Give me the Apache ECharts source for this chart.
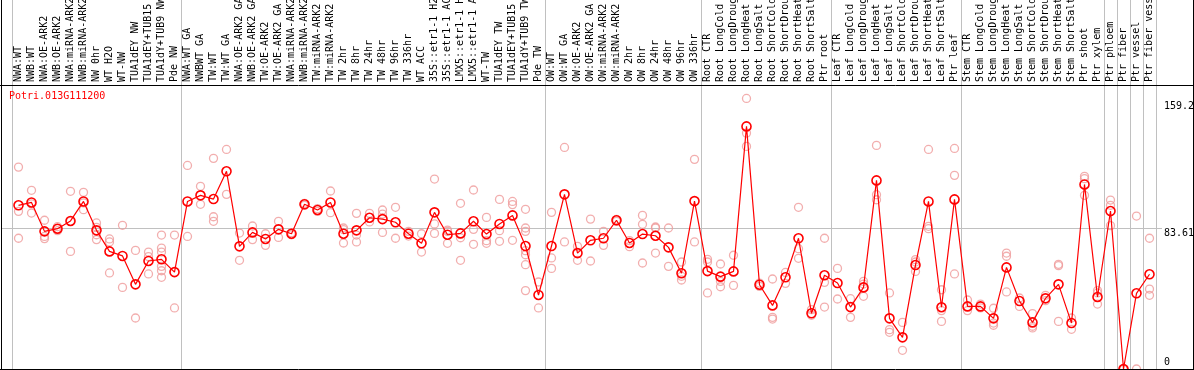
<!DOCTYPE html>
<html><head><meta charset="utf-8">
<script src="https://cdn.jsdelivr.net/npm/echarts@6/dist/echarts.min.js"></script>
<style>html,body{margin:0;padding:0;background:#fff;overflow:hidden}#c{width:1194px;height:370px}</style>
</head><body><div id="c"></div>
<script>
const geneName = 'Potri.013G111200';
const categories = [
 'NWA:WT','NWB:WT','NWA:OE-ARK2','NWB:OE-ARK2','NWA:miRNA-ARK2','NWB:miRNA-ARK2','NW 0hr','WT H2O','WT-NW','TUA1dEY NW','TUA1dEY+TUB15 NW','TUA1dY+TUB9 NW','Pde NW',
 'NWA:WT GA','NWBWT GA','TW:WT','TW:WT GA','NWA:OE-ARK2 GA','NWB:OE-ARK2 GA','TW:OE-ARK2','TW:OE-ARK2 GA','NWA:miRNA-ARK2 GA','NWB:miRNA-ARK2 GA','TW:miRNA-ARK2','TW:miRNA-ARK2 GA','TW 2hr','TW 8hr','TW 24hr','TW 48hr','TW 96hr','TW 336hr','WT ACC','35S::etr1-1 H2O','35S::etr1-1 ACC','LMX5::etr1-1 H2O','LMX5::etr1-1 ACC','WT-TW','TUA1dEY TW','TUA1dEY+TUB15 TW','TUA1dY+TUB9 TW','Pde TW',
 'OW:WT','OW:WT GA','OW:OE-ARK2','OW:OE-ARK2 GA','OW:miRNA-ARK2','OW:miRNA-ARK2 GA','OW 2hr','OW 8hr','OW 24hr','OW 48hr','OW 96hr','OW 336hr',
 'Root CTR','Root LongCold','Root LongDrought','Root LongHeat','Root LongSalt','Root ShortCold','Root ShortDrought','Root ShortHeat','Root ShortSalt','Ptr root',
 'Leaf CTR','Leaf LongCold','Leaf LongDrought','Leaf LongHeat','Leaf LongSalt','Leaf ShortCold','Leaf ShortDrought','Leaf ShortHeat','Leaf ShortSalt','Ptr leaf',
 'Stem CTR','Stem LongCold','Stem LongDrought','Stem LongHeat','Stem LongSalt','Stem ShortCold','Stem ShortDrought','Stem ShortHeat','Stem ShortSalt','Ptr shoot','Ptr xylem',
 'Ptr phloem','Ptr fiber','Ptr vessel','Ptr fiber vessel'
];
const means = [
 97.3,99.0,81.8,83.4,88.0,99.6,82.4,69.9,67.2,50.3,64.2,65.2,57.6,
 99.6,103.2,101.0,117.5,72.9,81.2,77.3,83.0,80.4,97.9,94.5,99.0,80.4,82.4,89.9,89.1,87.2,80.4,74.7,93.1,79.8,80.6,87.8,80.2,86.2,91.3,73.1,44.0,
 73.1,103.8,68.9,76.5,77.7,88.4,74.9,80.2,79.2,72.3,56.9,99.8,
 58.2,54.9,58.0,144.2,50.1,37.8,54.5,77.7,33.1,55.7,
 51.1,36.8,48.5,112.1,30.1,18.8,61.8,99.6,36.7,100.8,
 37.2,37.2,30.1,60.4,40.4,27.7,42.0,50.3,27.3,109.7,42.8,
 93.9,0,45.0,56.3
];
const replicates = [
 [120.0,93.7,77.7],[106.2,98.1,92.7],[88.4,78.8,77.5],[84.6,83.4,82.2],[105.6,87.8,69.9],[105.0,98.7,94.7],[86.8,84.2,79.8,76.9],[77.3,75.5,57.1],[85.4,48.5],[70.5,30.3],[69.5,66.8,56.5],[79.6,71.9,69.5,61.0,58.4,54.5],[79.6,36.3],
 [121.0,78.8],[108.6,97.9],[125.2,90.5,87.8],[130.5,103.8],[80.8,64.6],[85.0,76.9],[80.4,73.5],[87.8,78.2],[81.0,79.8],[98.5,97.3],[95.3,93.7],[105.8,92.9],[83.8,82.8,74.9],[92.5,79.6,75.5],[92.5,87.4],[94.5,92.1,81.2],[96.1,77.7],[81.8,79.0],[80.4,69.5],[112.9,86.2,80.6],[82.6,81.8,74.7],[98.5,78.0,64.6],[106.4,83.0,74.1],[90.1,76.3,74.7],[100.8,82.2,75.9],[99.6,97.7,76.5],[94.9,83.8,81.8,70.3,67.9,62.0,46.6],[51.7,36.3],
 [93.1,66.0,59.8],[131.7,75.5],[72.9,64.6],[89.1,64.2],[81.8,73.5],[88.9,87.8],[76.3,72.7],[91.3,86.0,63.0],[84.4,83.8,68.9],[83.8,61.0],[63.6,55.1,52.9],[124.6,75.5],
 [65.2,63.6,45.2],[62.4,52.1,48.9],[67.6,49.7],[160.8,140.2,132.3],[51.1,49.1],[53.5,30.7,29.7],[57.4,50.9],[96.1,71.5,65.8],[35.3,31.9],[77.7,51.5,36.8],
 [59.8,41.6],[41.8,30.7],[52.1,50.5,43.2],[132.9,103.6,100.6],[45.2,23.4,21.8],[27.7,11.1],[65.0,63.6,58.0],[130.5,84.8,83.4],[47.1,34.7,28.3],[131.1,115.1,56.5],
 [41.0,34.7],[38.6,36.3],[36.1,27.3,26.0],[68.9,67.0,45.8],[42.2,37.2],[32.9,25.4,24.4],[43.8,40.6],[62.2,61.4,28.3],[30.3,23.6],[114.5,113.1,103.2],[46.6,45.2,38.6],
 [100.4,97.3,85.2],[0,0,0],[90.9,0],[77.7,47.5,43.8]
];
const groupStarts = [0,13,41,53,63,73,84,85,86,87];
const yTicks = [0, 83.61, 159.2];
const refLine = 83.61;
const yMax = 168.8;

const FONT = 'DejaVu Sans Mono';
const SEP = '#c0c0c0';
const sepInterval = function (i) { return groupStarts.indexOf(i) >= 0; };

const repData = [];
replicates.forEach(function (arr, i) { arr.forEach(function (v) { repData.push([i, v]); }); });

const chart = echarts.init(document.getElementById('c'), null, {renderer: 'canvas'});
const option = {
  animation: false,
  backgroundColor: '#fff',
  title: {text: geneName, left: 9, top: 91, padding: 0, textStyle: {color: '#ff0000', fontFamily: FONT, fontSize: 10, fontWeight: 'normal'}},
  grid: [
    {left: 12, width: 1144, top: 0, height: 85, outerBoundsMode: 'none', containLabel: false},
    {left: 12, width: 1144, top: 85, height: 284, outerBoundsMode: 'none', containLabel: false}
  ],
  xAxis: [
    {gridIndex: 0, type: 'category', data: categories, boundaryGap: true,
     axisLine: {show: false}, axisTick: {show: false}, axisLabel: {show: false},
     splitLine: {show: true, interval: sepInterval, lineStyle: {color: SEP, width: 1}}},
    {gridIndex: 1, type: 'category', data: categories, position: 'top', boundaryGap: true,
     axisLine: {show: false}, axisTick: {show: false},
     axisLabel: {show: true, interval: 0, rotate: 90, margin: 3, color: '#000', fontFamily: FONT, fontSize: 10, hideOverlap: false},
     splitLine: {show: true, interval: sepInterval, lineStyle: {color: SEP, width: 1}}}
  ],
  yAxis: [
    {gridIndex: 0, type: 'value', show: false},
    {gridIndex: 1, type: 'value', position: 'right', min: 0, max: yMax,
     axisLine: {show: false}, axisTick: {show: false}, splitLine: {show: false},
     axisLabel: {customValues: yTicks, margin: 8, align: 'left', verticalAlign: 'middle', color: '#000', fontFamily: FONT, fontSize: 10,
       formatter: function (v) { return v === 0 ? '{b|0}' : '{t|' + v + '}'; },
       rich: {
         t: {fontFamily: FONT, fontSize: 10, color: '#000', padding: [10, 0, 0, 0]},
         b: {fontFamily: FONT, fontSize: 10, color: '#000', padding: [0, 0, 14, 0]}
       }}}
  ],
  series: [
    {type: 'scatter', xAxisIndex: 1, yAxisIndex: 1, data: repData, symbol: 'circle', symbolSize: 8, z: 2,
     itemStyle: {color: 'rgba(0,0,0,0)', borderColor: '#ef9a9a', borderWidth: 1.3}, silent: true},
    {type: 'line', xAxisIndex: 1, yAxisIndex: 1, data: means, symbol: 'circle', symbolSize: 9, showAllSymbol: true, z: 3,
     lineStyle: {color: '#ff0000', width: 1.2},
     itemStyle: {color: 'rgba(0,0,0,0)', borderColor: '#ff0000', borderWidth: 1.6}, silent: true}
  ]
};
chart.setOption(option);
const yRef = chart.convertToPixel({xAxisIndex: 1, yAxisIndex: 1}, [0, refLine])[1];
chart.setOption({
  graphic: [
    {type: 'line', z: 1, silent: true, shape: {x1: 2, y1: Math.round(yRef) + 0.5, x2: 1162, y2: Math.round(yRef) + 0.5}, style: {stroke: SEP, lineWidth: 1}},
    {type: 'line', z: 10, silent: true, shape: {x1: 0, y1: 85.5, x2: 1194, y2: 85.5}, style: {stroke: '#000', lineWidth: 1}},
    {type: 'line', z: 10, silent: true, shape: {x1: 1.5, y1: 0, x2: 1.5, y2: 370}, style: {stroke: '#000', lineWidth: 1}},
    {type: 'line', z: 10, silent: true, shape: {x1: 1193.5, y1: 0, x2: 1193.5, y2: 370}, style: {stroke: '#000', lineWidth: 1}},
    {type: 'line', z: 10, silent: true, shape: {x1: 0, y1: 369.5, x2: 1194, y2: 369.5}, style: {stroke: '#000', lineWidth: 1}}
  ]
});
</script>
</body></html>
